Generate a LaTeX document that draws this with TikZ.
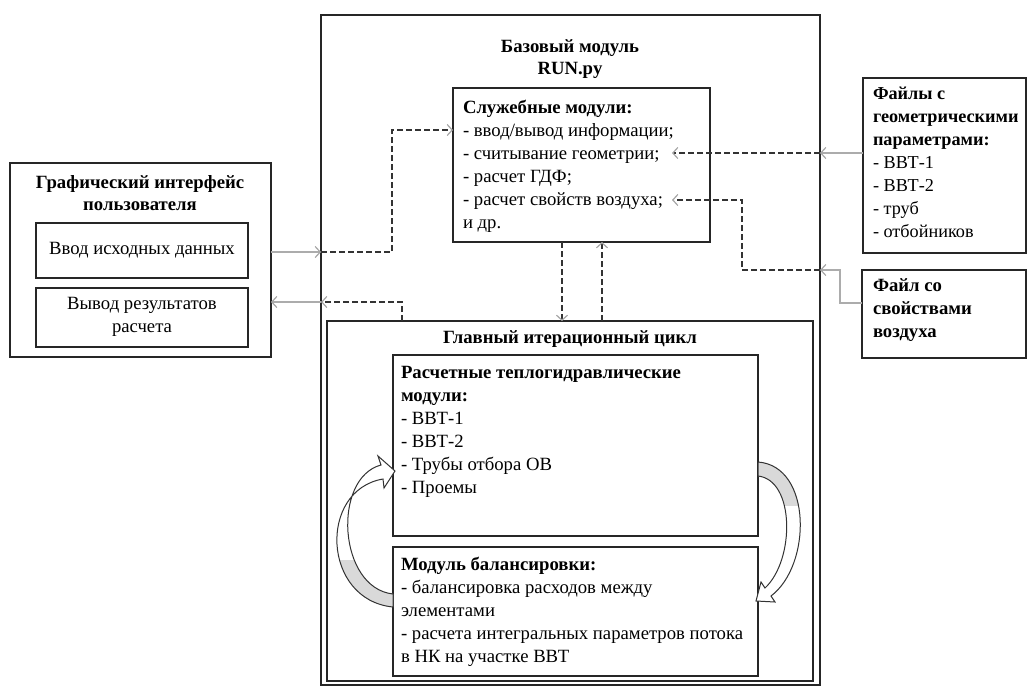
\documentclass[tikz,border=0pt]{standalone}
\usepackage{fontspec}
\setmainfont{Liberation Serif}
\usetikzlibrary{arrows.meta}
\begin{document}
\begin{tikzpicture}[x=1pt,y=-1pt,
  box/.style={draw=black!85,line width=1.3pt,inner sep=0,outer sep=0,anchor=north west},
  txt/.style={inner sep=0,outer sep=0,align=left,anchor=north west,font=\fontsize{18.7}{23}\selectfont},
  ctxt/.style={inner sep=0,outer sep=0,align=center,font=\fontsize{18.7}{23}\selectfont},
  dline/.style={dash pattern=on 6pt off 3pt,line width=1.3pt,draw=black!80},
  gline/.style={line width=1.3pt,draw=gray!65},
  tipg/.style={-{Straight Barb[length=5pt,width=11pt,line width=1.2pt,color=gray!70]}},
  curvarrow/.style={draw=black!80,line width=1pt}
]
\useasboundingbox (0,0) rectangle (1028,686);

% base module
\node[box,minimum width=499pt,minimum height=670pt] (base) at (321,15) {};
\node[ctxt,font=\fontsize{18.7}{22}\selectfont\bfseries] (basetitle) at (570,59) {Базовый модуль\\RUN.py};

% service modules
\node[box,minimum width=257pt,minimum height=154pt] (serv) at (453,88) {};
\node[txt] (servtxt) at (463,100) {\textbf{Служебные модули:}\\- ввод/вывод информации;\\- считывание геометрии;\\- расчет ГДФ;\\- расчет свойств воздуха;\\и др.};

% GUI
\node[box,minimum width=261pt,minimum height=194pt] (gui) at (10,163) {};
\node[ctxt,font=\fontsize{18.7}{22}\selectfont\bfseries] (guititle) at (140,193) {Графический интерфейс\\пользователя};
\node[box,minimum width=212pt,minimum height=55pt] (inbox) at (36,223) {};
\node[ctxt] (intxt) at (142,250) {Ввод исходных данных};
\node[box,minimum width=212pt,minimum height=59pt] (outbox) at (36,288) {};
\node[ctxt] (outtxt) at (142,317) {Вывод результатов\\расчета};

% main cycle
\node[box,minimum width=486pt,minimum height=360pt] (cycle) at (327,321) {};
\node[ctxt,font=\fontsize{18.7}{23}\selectfont\bfseries] (cycletitle) at (570,339) {Главный итерационный цикл};
\node[box,minimum width=365pt,minimum height=181pt] (calc) at (393,355) {};
\node[txt] (calctxt) at (401,366) {\textbf{Расчетные теплогидравлические}\\\textbf{модули:}\\- ВВТ-1\\- ВВТ-2\\- Трубы отбора ОВ\\- Проемы};
\node[box,minimum width=365pt,minimum height=129pt] (bal) at (393,547) {};
\node[txt] (baltxt) at (401,557) {\textbf{Модуль балансировки:}\\- балансировка расходов между\\элементами\\- расчета интегральных параметров потока\\в НК на участке ВВТ};

% files
\node[box,minimum width=163pt,minimum height=175pt] (geo) at (863,78) {};
\node[txt,font=\fontsize{18.2}{23}\selectfont] (geotxt) at (873,87) {\textbf{Файлы с}\\\textbf{геометрическими}\\\textbf{параметрами:}\\- ВВТ-1\\- ВВТ-2\\- труб\\- отбойников};
\node[box,minimum width=164pt,minimum height=88pt] (air) at (862,270) {};
\node[txt] (airtxt) at (873,279) {\textbf{Файл со}\\\textbf{свойствами}\\\textbf{воздуха}};

% helper coordinates
\coordinate (inL) at (321,252);
\coordinate (outL) at (321,302);
\coordinate (geoR) at (820,153);
\coordinate (airR) at (820,270);
\coordinate (geoT) at (672,153);
\coordinate (airT) at (672,200);

% GUI input
\draw[gline,tipg] (gui.east |- inL) -- (inL);
\draw[dline,tipg] (inL) -- (392,252) |- (serv.west |- 0,130);
% GUI output
\draw[dline,tipg] (cycle.north -| 402,0) |- (outL);
\draw[gline,tipg] (outL) -- (gui.east |- outL);
% service <-> cycle
\draw[dline,tipg] (serv.south -| 562,0) -- (cycle.north -| 562,0);
\draw[dline,tipg] (cycle.north -| 602,0) -- (serv.south -| 602,0);
% geometry file
\draw[gline,tipg] (geo.west |- geoR) -- (geoR);
\draw[dline,tipg] (geoR) -- (geoT);
% air file
\draw[gline,tipg] (air.west |- 0,303) -- (840,303) |- (airR);
\draw[dline,tipg] (airR) -- (742,270) |- (airT);

% curved arrows
\def\larrowpath{(393,607) .. controls (322,600) and (318,490) .. (383,479) -- (384,488) -- (395,471) -- (378,456) -- (381,465) .. controls (332,478) and (338,588) .. (393,594) -- cycle}
\def\rarrowpath{(758,462) .. controls (812,466) and (812,565) .. (771,596) -- (775,602) -- (756,601) -- (761,582) -- (765,588) .. controls (795,560) and (795,480) .. (758,476) -- cycle}
\fill[white] \larrowpath;
\begin{scope}
\clip (300,560) rectangle (393,612);
\fill[gray!30] \larrowpath;
\end{scope}
\draw[curvarrow] \larrowpath;
\fill[white] \rarrowpath;
\begin{scope}
\clip (758,455) rectangle (830,505);
\fill[gray!30] \rarrowpath;
\end{scope}
\draw[curvarrow] \rarrowpath;
\end{tikzpicture}
\end{document}
